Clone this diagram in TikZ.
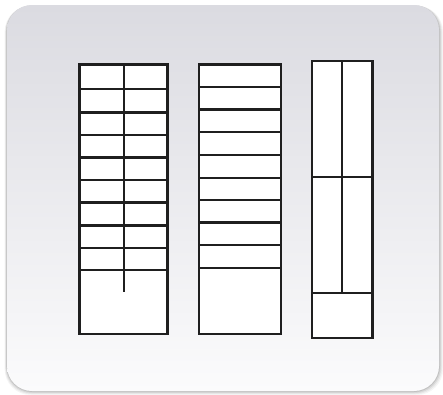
\documentclass[tikz,border=0pt]{standalone}
\begin{document}
\begin{tikzpicture}[x=1pt,y=-1pt,
  shelf/.style={draw=black!88,line width=2.3pt,fill=white},
  divider/.style={draw=black!88,line width=2.3pt}]
\useasboundingbox (0,0) rectangle (443,394);
\fill[white] (0,0) rectangle (443,394);
% shadow
\foreach \d/\o in {4/0.04,3/0.05,2/0.07,1/0.1}{
  \fill[black,opacity=\o,rounded corners=26pt] (7-\d*0.6,5+\d*0.2) rectangle (439+\d,391+\d);
}
% panel
\shade[rounded corners=25pt,top color={rgb,255:red,219;green,219;blue,225},bottom color={rgb,255:red,251;green,251;blue,252}] (7,5) rectangle (439,391);
% cabinet 1
\draw[shelf] (79.5,64.5) rectangle (167.5,334);
\foreach \y in {89,112.5,135,157.5,180,202.5,225.5,248,270}{
  \draw[divider] (79.5,\y) -- (167.5,\y);
}
\draw[divider] (123.7,64.5) -- (123.7,292);
% cabinet 2
\draw[shelf] (198.7,64.5) rectangle (281,334);
\foreach \y in {87,109.5,132.3,155,177.7,200,222.5,245,267.7}{
  \draw[divider] (198.7,\y) -- (281,\y);
}
% cabinet 3
\draw[shelf] (312,61) rectangle (372.5,338.3);
\draw[divider] (312,177) -- (372.5,177);
\draw[divider] (312,293.3) -- (372.5,293.3);
\draw[divider] (342.3,61) -- (342.3,293.3);
\end{tikzpicture}
\end{document}
